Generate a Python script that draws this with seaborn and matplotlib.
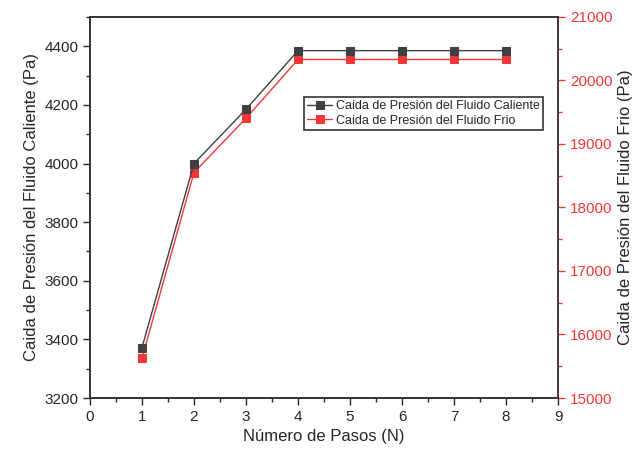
import numpy as np
import pandas as pd
import matplotlib
matplotlib.use("Agg")
import matplotlib.pyplot as plt
import seaborn as sns
from matplotlib.ticker import MultipleLocator

# Datos
pasos = [1, 2, 3, 4, 5, 6, 7, 8]
dp_caliente = [3372, 4000, 4185, 4385, 4385, 4385, 4385, 4385]
dp_frio = [15625, 18550, 19405, 20330, 20330, 20330, 20330, 20330]

df = pd.DataFrame({"N": pasos, "caliente": dp_caliente, "frio": dp_frio})

sns.set_style("ticks")
plt.rcParams['font.family'] = ['Liberation Sans', 'DejaVu Sans']

fig = plt.figure(figsize=(6.4, 4.58), dpi=100)
ax = fig.add_axes([0.1406, 0.131, 0.7313, 0.832])
ax2 = ax.twinx()

gris = '#404040'
rojo = '#f03838'

sns.lineplot(data=df, x="N", y="caliente", ax=ax, color=gris, marker='s',
             markersize=6, markeredgecolor=gris, linewidth=1,
             label='Caida de Presión del Fluido Caliente', legend=False)
sns.lineplot(data=df, x="N", y="frio", ax=ax2, color=rojo, marker='s',
             markersize=6, markeredgecolor=rojo, linewidth=1,
             label='Caida de Presión del Fluido Frio', legend=False)

ax.set_xlim(0, 9)
ax.set_ylim(3200, 4500)
ax2.set_ylim(15000, 21000)
ax.xaxis.set_major_locator(MultipleLocator(1))
ax.xaxis.set_minor_locator(MultipleLocator(0.5))
ax.yaxis.set_major_locator(MultipleLocator(200))
ax.yaxis.set_minor_locator(MultipleLocator(100))
ax2.yaxis.set_major_locator(MultipleLocator(1000))
ax2.yaxis.set_minor_locator(MultipleLocator(500))

ax.set_xlabel('Número de Pasos (N)', fontsize=12)
ax.set_ylabel('Caida de Presión del Fluido Caliente (Pa)', fontsize=12)
ax2.set_ylabel('Caida de Presión del Fluido Frio (Pa)', fontsize=12)

for a in (ax, ax2):
    a.tick_params(which='major', direction='out', length=5, width=1, labelsize=11)
    a.tick_params(which='minor', direction='out', length=3, width=1)
    for s in a.spines.values():
        s.set_visible(True)
        s.set_linewidth(1.2)
        s.set_color('#333333')
ax2.spines['right'].set_color(rojo)
ax2.tick_params(axis='y', which='both', colors=rojo)
ax.tick_params(axis='x', which='both', top=False)
ax.tick_params(axis='y', which='both', right=False)

h1, l1 = ax.get_legend_handles_labels()
h2, l2 = ax2.get_legend_handles_labels()
leg = ax.legend(h1 + h2, l1 + l2, loc='upper left', bbox_to_anchor=(0.458, 0.79),
                fontsize=9, frameon=True, fancybox=False, edgecolor='black',
                handlelength=2.0, handletextpad=0.3, borderpad=0.25, labelspacing=0.2,
                borderaxespad=0)
leg.get_frame().set_linewidth(1.2)
ax.set_zorder(ax2.get_zorder() + 1)
ax.patch.set_visible(False)

fig.savefig('out.png', dpi=100)
